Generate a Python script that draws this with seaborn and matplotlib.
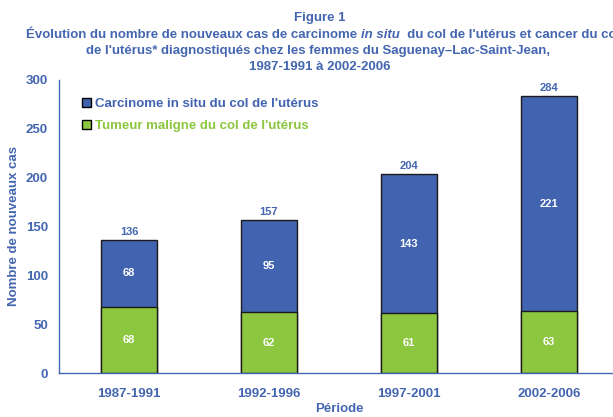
import pandas as pd
import matplotlib
matplotlib.use("Agg")
import matplotlib.pyplot as plt
import seaborn as sns
from matplotlib.patches import Patch

# data
periodes = ['1987-1991', '1992-1996', '1997-2001', '2002-2006']
carcinome = [68, 95, 143, 221]
tumeur = [68, 62, 61, 63]
totaux = [136, 157, 204, 284]

BLUE = '#4263AF'
GREEN = '#8DC63F'
TXT = '#4466B0'

sns.set_style("white")
plt.rcParams['font.family'] = ['Liberation Sans', 'DejaVu Sans']
plt.rcParams['font.weight'] = 'bold'

df = pd.DataFrame({'Periode': periodes, 'Carcinome': carcinome,
                   'Tumeur': tumeur, 'Total': totaux})

fig = plt.figure(figsize=(6.13, 4.17), dpi=100)
ax = fig.add_axes([59 / 613, 44 / 417, 560 / 613, 293 / 417])

# stacked bars: total (blue) behind, green on top of it
sns.barplot(data=df, x='Periode', y='Total', color=BLUE, width=0.4,
            edgecolor='#1a1a1a', linewidth=1, saturation=1, ax=ax)
sns.barplot(data=df, x='Periode', y='Tumeur', color=GREEN, width=0.4,
            edgecolor='#1a1a1a', linewidth=1, saturation=1, ax=ax)

for i in range(len(periodes)):
    ax.text(i, tumeur[i] / 2, str(tumeur[i]), ha='center', va='center',
            color='white', fontsize=8, fontweight='bold')
    ax.text(i, tumeur[i] + carcinome[i] / 2, str(carcinome[i]), ha='center',
            va='center', color='white', fontsize=8, fontweight='bold')
    ax.text(i, totaux[i] + 3, str(totaux[i]), ha='center', va='bottom',
            color=TXT, fontsize=8, fontweight='bold')

ax.set_ylim(0, 300)
ax.set_xlim(-0.5, 3.5)
ax.set_yticks(range(0, 301, 50))
ax.tick_params(axis='y', direction='out', length=5, color=TXT, width=1,
               labelsize=9.5, labelcolor=TXT, pad=3)
ax.tick_params(axis='x', length=0, labelsize=9.5, labelcolor=TXT, pad=11)
for lab in ax.get_xticklabels() + ax.get_yticklabels():
    lab.set_fontweight('bold')
sns.despine(ax=ax)
for s in ['left', 'bottom']:
    ax.spines[s].set_color(TXT)
    ax.spines[s].set_linewidth(1)

ax.set_xlabel('Période', color=TXT, fontsize=9.5, fontweight='bold', labelpad=2)
ax.set_ylabel('Nombre de nouveaux cas', color=TXT, fontsize=9.5,
              fontweight='bold', labelpad=4)

handles = [Patch(facecolor=BLUE, edgecolor='black', linewidth=1),
           Patch(facecolor=GREEN, edgecolor='black', linewidth=1)]
leg = ax.legend(handles, ["Carcinome in situ du col de l'utérus",
                          "Tumeur maligne du col de l'utérus"],
                loc='upper left', bbox_to_anchor=(0.02, 0.98), frameon=False,
                prop={'size': 9.5, 'weight': 'bold'}, handlelength=0.7,
                handleheight=0.7, handletextpad=0.3, labelspacing=0.75)
for t, c in zip(leg.get_texts(), [BLUE, '#8DC63F']):
    t.set_color(c)

# title (second line runs past the right edge, as in the source)
fs = 9.5
xc = 320 / 613
fig.text(xc, 1 - 18 / 417, 'Figure 1', ha='center', va='center',
         color=TXT, fontsize=fs, fontweight='bold')
renderer = fig.canvas.get_renderer()
y2 = 1 - 35 / 417
parts = [("Évolution du nombre de nouveaux cas de carcinome ", 'normal'),
         ("in situ", 'italic'),
         ("  du col de l'utérus et cancer du col", 'normal')]
x = 26 / 613
for s, style in parts:
    t = fig.text(x, y2, s, ha='left', va='center', color=TXT, fontsize=fs,
                 fontweight='bold', fontstyle=style)
    bb = t.get_window_extent(renderer)
    x += bb.width / fig.bbox.width
fig.text(318 / 613, 1 - 51 / 417,
         "de l'utérus* diagnostiqués chez les femmes du Saguenay–Lac-Saint-Jean,",
         ha='center', va='center', color=TXT, fontsize=fs, fontweight='bold')
fig.text(xc, 1 - 67 / 417, '1987-1991 à 2002-2006', ha='center',
         va='center', color=TXT, fontsize=fs, fontweight='bold')

fig.savefig('out.png', dpi=100)
